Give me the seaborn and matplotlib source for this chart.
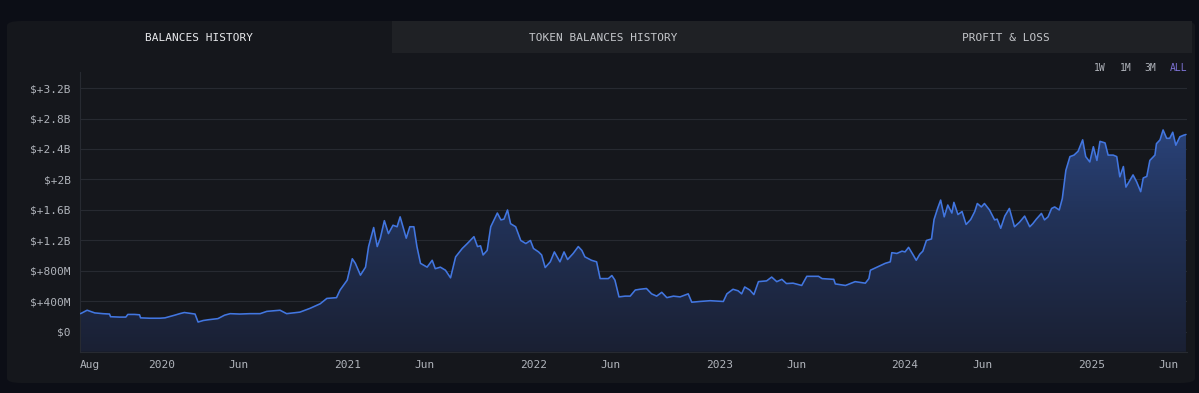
import seaborn as sns
import matplotlib.pyplot as plt
import matplotlib.dates as mdates
from matplotlib.patches import FancyBboxPatch, Rectangle
from matplotlib.colors import LinearSegmentedColormap
import numpy as np
import pandas as pd

# balances history (values in $ billions)
balance_dates = [
    "2019-07-26", "2019-08-08", "2019-08-23", "2019-09-08", "2019-09-21", "2019-09-23",
    "2019-10-11", "2019-10-23", "2019-10-27", "2019-11-09", "2019-11-19", "2019-11-21",
    "2019-12-09", "2019-12-29", "2020-01-08", "2020-01-27", "2020-02-06", "2020-02-15",
    "2020-02-26", "2020-03-07", "2020-03-13", "2020-03-23", "2020-04-02", "2020-04-21",
    "2020-05-04", "2020-05-15", "2020-06-03", "2020-06-23", "2020-07-13", "2020-07-26",
    "2020-08-21", "2020-09-03", "2020-09-29", "2020-10-19", "2020-11-08", "2020-11-21",
    "2020-12-10", "2020-12-17", "2020-12-31", "2021-01-10", "2021-01-16", "2021-01-26",
    "2021-02-05", "2021-02-11", "2021-02-21", "2021-02-28", "2021-03-06", "2021-03-14",
    "2021-03-22", "2021-03-31", "2021-04-08", "2021-04-14", "2021-04-26", "2021-05-03",
    "2021-05-11", "2021-05-17", "2021-05-24", "2021-06-06", "2021-06-16", "2021-06-22",
    "2021-07-02", "2021-07-12", "2021-07-22", "2021-08-01", "2021-08-14", "2021-08-24",
    "2021-09-06", "2021-09-13", "2021-09-19", "2021-09-24", "2021-10-02", "2021-10-09",
    "2021-10-22", "2021-10-29", "2021-11-04", "2021-11-11", "2021-11-17", "2021-11-27",
    "2021-12-07", "2021-12-17", "2021-12-26", "2022-01-01", "2022-01-11", "2022-01-17",
    "2022-01-24", "2022-02-03", "2022-02-11", "2022-02-22", "2022-03-02", "2022-03-09",
    "2022-03-20", "2022-03-30", "2022-04-06", "2022-04-12", "2022-04-25", "2022-05-05",
    "2022-05-12", "2022-05-28", "2022-06-04", "2022-06-10", "2022-06-18", "2022-06-30",
    "2022-07-10", "2022-07-20", "2022-07-29", "2022-08-11", "2022-08-21", "2022-08-31",
    "2022-09-10", "2022-09-20", "2022-10-03", "2022-10-16", "2022-11-01", "2022-11-08",
    "2022-11-24", "2022-12-14", "2023-01-09", "2023-01-16", "2023-01-28", "2023-02-07",
    "2023-02-14", "2023-02-20", "2023-03-02", "2023-03-10", "2023-03-19", "2023-04-04",
    "2023-04-14", "2023-04-24", "2023-05-04", "2023-05-13", "2023-05-26", "2023-06-12",
    "2023-06-22", "2023-07-05", "2023-07-15", "2023-07-22", "2023-08-14", "2023-08-17",
    "2023-09-06", "2023-09-25", "2023-10-15", "2023-10-22", "2023-10-25", "2023-11-10",
    "2023-11-23", "2023-12-03", "2023-12-06", "2023-12-16", "2023-12-26", "2024-01-01",
    "2024-01-08", "2024-01-17", "2024-01-23", "2024-01-30", "2024-02-05", "2024-02-12",
    "2024-02-22", "2024-02-27", "2024-03-05", "2024-03-11", "2024-03-18", "2024-03-25",
    "2024-04-02", "2024-04-06", "2024-04-14", "2024-04-22", "2024-04-30", "2024-05-09",
    "2024-05-17", "2024-05-22", "2024-05-30", "2024-06-05", "2024-06-15", "2024-06-25",
    "2024-06-30", "2024-07-07", "2024-07-15", "2024-07-24", "2024-08-03", "2024-08-13",
    "2024-08-23", "2024-09-02", "2024-09-08", "2024-09-15", "2024-09-25", "2024-10-01",
    "2024-10-08", "2024-10-15", "2024-10-21", "2024-10-30", "2024-11-05", "2024-11-12",
    "2024-11-20", "2024-11-28", "2024-12-06", "2024-12-15", "2024-12-21", "2024-12-29",
    "2025-01-05", "2025-01-12", "2025-01-18", "2025-01-28", "2025-02-03", "2025-02-13",
    "2025-02-20", "2025-02-26", "2025-03-05", "2025-03-10", "2025-03-18", "2025-03-24",
    "2025-03-31", "2025-04-08", "2025-04-13", "2025-04-20", "2025-04-26", "2025-05-06",
    "2025-05-09", "2025-05-16", "2025-05-22", "2025-05-29", "2025-06-04", "2025-06-10",
    "2025-06-16", "2025-06-24", "2025-07-01", "2025-07-06",
]
balance_bn = [
    0.24, 0.285, 0.25, 0.24, 0.235, 0.20,
    0.195, 0.195, 0.23, 0.23, 0.225, 0.185,
    0.18, 0.18, 0.185, 0.22, 0.24, 0.255,
    0.245, 0.235, 0.13, 0.15, 0.16, 0.175,
    0.22, 0.24, 0.235, 0.24, 0.24, 0.27,
    0.285, 0.24, 0.26, 0.31, 0.37, 0.44,
    0.45, 0.55, 0.68, 0.96, 0.90, 0.745,
    0.85, 1.12, 1.37, 1.12, 1.23, 1.46,
    1.29, 1.40, 1.38, 1.51, 1.23, 1.38,
    1.38, 1.12, 0.90, 0.85, 0.94, 0.83,
    0.85, 0.81, 0.71, 0.985, 1.095, 1.16,
    1.25, 1.12, 1.13, 1.01, 1.07, 1.38,
    1.56, 1.47, 1.48, 1.60, 1.42, 1.38,
    1.20, 1.16, 1.20, 1.095, 1.05, 1.01,
    0.845, 0.92, 1.05, 0.92, 1.05, 0.95,
    1.03, 1.12, 1.07, 0.985, 0.94, 0.92,
    0.70, 0.70, 0.74, 0.68, 0.46, 0.47,
    0.47, 0.55, 0.56, 0.57, 0.50, 0.47,
    0.52, 0.45, 0.47, 0.46, 0.50, 0.39,
    0.40, 0.41, 0.40, 0.50, 0.56, 0.54,
    0.50, 0.59, 0.55, 0.49, 0.66, 0.67,
    0.72, 0.66, 0.69, 0.635, 0.64, 0.61,
    0.73, 0.73, 0.73, 0.70, 0.69, 0.63,
    0.61, 0.66, 0.64, 0.70, 0.81, 0.86,
    0.90, 0.92, 1.04, 1.03, 1.06, 1.05,
    1.11, 1.01, 0.94, 1.02, 1.06, 1.20,
    1.22, 1.475, 1.62, 1.73, 1.51, 1.665,
    1.56, 1.70, 1.54, 1.58, 1.41, 1.475,
    1.58, 1.685, 1.64, 1.685, 1.60, 1.47,
    1.48, 1.36, 1.52, 1.62, 1.38, 1.44,
    1.52, 1.38, 1.42, 1.48, 1.555, 1.47,
    1.51, 1.62, 1.64, 1.60, 1.75, 2.12,
    2.30, 2.32, 2.37, 2.52, 2.30, 2.23,
    2.43, 2.25, 2.50, 2.48, 2.32, 2.32,
    2.30, 2.035, 2.17, 1.90, 1.99, 2.06,
    1.97, 1.84, 2.02, 2.04, 2.25, 2.32,
    2.47, 2.52, 2.65, 2.54, 2.54, 2.62,
    2.45, 2.56, 2.58, 2.59,
]

y_ticks = [0, 0.4, 0.8, 1.2, 1.6, 2.0, 2.4, 2.8, 3.2]
y_labels = ["$0", "$+400M", "$+800M", "$+1.2B", "$+1.6B", "$+2B", "$+2.4B", "$+2.8B", "$+3.2B"]
x_ticks = ["2019-07-25", "2020-01-01", "2020-06-01", "2021-01-01", "2021-06-01",
           "2022-01-01", "2022-06-01", "2023-01-01", "2023-06-01", "2024-01-01",
           "2024-06-01", "2025-01-01", "2025-06-01"]
x_labels = ["Aug", "2020", "Jun", "2021", "Jun", "2022", "Jun", "2023", "Jun",
            "2024", "Jun", "2025", "Jun"]
tabs = ["BALANCES HISTORY", "TOKEN BALANCES HISTORY", "PROFIT & LOSS"]
ranges = ["1W", "1M", "3M", "ALL"]

df = pd.DataFrame({"date": pd.to_datetime(balance_dates), "balance": balance_bn})

W, H = 1199, 393
BG = "#0c0e16"
CARD = "#15171c"
TAB = "#1f2125"
GRID = "#272a31"
TXT = "#b0b4bb"
LINE = "#4276e0"

sns.set_style("dark")
plt.rcParams["font.family"] = ["DejaVu Sans Mono", "DejaVu Sans"]

fig = plt.figure(figsize=(W / 100, H / 100), dpi=100, facecolor=BG)

def fx(px):
    return px / W

def fy(py):
    return 1 - py / H

# card and tabs (kept behind the axes)
fig.patches.append(FancyBboxPatch((fx(7), fy(383)), fx(1195) - fx(7), fy(21) - fy(383),
                                  boxstyle="round,pad=0,rounding_size=0.012",
                                  transform=fig.transFigure, facecolor=CARD, edgecolor="none", zorder=-3))
fig.patches.append(Rectangle((fx(392), fy(53)), fx(1192) - fx(392), fy(21) - fy(53),
                             transform=fig.transFigure, facecolor=TAB, edgecolor="none", zorder=-2))
fig.text(fx(199), fy(38), tabs[0], color="#e8e9ec", fontsize=8, ha="center", va="center")
fig.text(fx(603), fy(38), tabs[1], color="#c4c6ca", fontsize=8, ha="center", va="center")
fig.text(fx(1006), fy(38), tabs[2], color="#c4c6ca", fontsize=8, ha="center", va="center")
for lab, px in zip(ranges, [1100, 1126, 1150, 1179]):
    fig.text(fx(px), fy(68), lab, color="#7d72d4" if lab == "ALL" else TXT,
             fontsize=7, ha="center", va="center")

ax = fig.add_axes([fx(80), fy(351.7), fx(1187) - fx(80), fy(72) - fy(351.7)])
ax.set_facecolor(CARD)

x0, x1 = pd.Timestamp("2019-07-25"), pd.Timestamp("2025-07-08")
y0, y1 = -0.259, 3.41

# gradient area under the line
fill = ax.fill_between(df["date"], df["balance"], y0, facecolor="none", edgecolor="none")
cmap = LinearSegmentedColormap.from_list("area", ["#1a2033", "#22335a", "#2f4d8e"])
grad = ax.imshow(np.linspace(0, 1, 256).reshape(-1, 1), cmap=cmap, aspect="auto", origin="lower",
                 extent=[mdates.date2num(x0), mdates.date2num(x1), y0, y1], zorder=1)
grad.set_clip_path(fill.get_paths()[0], transform=ax.transData)

sns.lineplot(data=df, x="date", y="balance", ax=ax, color=LINE, linewidth=1.15, zorder=3)

ax.set_xlim(x0, x1)
ax.set_ylim(y0, y1)
ax.set_yticks(y_ticks)
ax.set_yticklabels(y_labels)
ax.set_xticks(pd.to_datetime(x_ticks))
ax.set_xticklabels(x_labels)
ax.get_xticklabels()[0].set_ha("left")
ax.tick_params(axis="both", length=0, colors=TXT, labelsize=8)
ax.tick_params(axis="y", pad=6.5)
ax.tick_params(axis="x", pad=6)
ax.grid(axis="y", color=GRID, linewidth=0.8, zorder=0)
ax.grid(axis="x", visible=False)
ax.set_axisbelow(True)
ax.set_xlabel("")
ax.set_ylabel("")
for side in ["top", "right"]:
    ax.spines[side].set_visible(False)
for side in ["left", "bottom"]:
    ax.spines[side].set_visible(True)
    ax.spines[side].set_color(GRID)
    ax.spines[side].set_linewidth(0.8)

fig.savefig("out.png", dpi=100, facecolor=BG)
